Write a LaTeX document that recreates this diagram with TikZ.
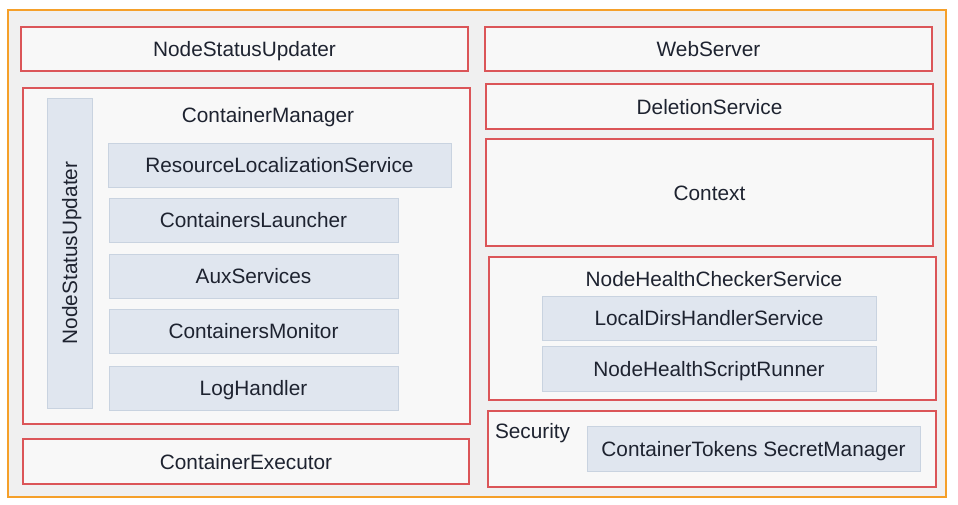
\documentclass[tikz,border=0pt]{standalone}
\usepackage{fontspec}
\setmainfont{Liberation Sans}
\definecolor{outerbg}{HTML}{F0F0F0}
\definecolor{outerln}{HTML}{F5A02A}
\definecolor{boxbg}{HTML}{F8F8F8}
\definecolor{redln}{HTML}{DB5558}
\definecolor{bluebg}{HTML}{E0E6EF}
\definecolor{blueln}{HTML}{C9D3E0}
\definecolor{txt}{HTML}{1E2330}
\tikzset{
  every node/.style={font=\fontsize{20.8}{24}\selectfont, text=txt, inner sep=0pt, outer sep=0pt, text height=19pt, text depth=4pt},
  redbox/.style={draw=redln, fill=boxbg, line width=1.1pt},
  bluebox/.style={draw=blueln, fill=bluebg, line width=0.9pt},
  lbl/.style={},
}
\begin{document}
\begin{tikzpicture}[x=1pt,y=-1pt]
\useasboundingbox (0,0) rectangle (958,504);
\fill[white] (0,0) rectangle (958,504);
\node[draw=outerln, fill=outerbg, line width=1.5pt, minimum width=938pt, minimum height=487pt] (outer) at (477,253.5) {};
% left column
\node[redbox, minimum width=447pt, minimum height=44pt] (nsu) at (244.5,49) {NodeStatusUpdater};
\node[redbox, minimum width=447pt, minimum height=336pt] (cm) at (246.5,256) {};
\node[lbl] (cmlbl) at (268,115) {ContainerManager};
\node[bluebox, minimum width=45pt, minimum height=310pt] (nsuv) at (69.5,253) {};
\node[rotate=90] (nsuvlbl) at (nsuv.center) {NodeStatusUpdater};
\node[bluebox, minimum width=343pt, minimum height=44pt] (rls) at (279.5,165) {ResourceLocalizationService};
\node[bluebox, minimum width=289pt, minimum height=44pt] (cl) at (253.5,220) {ContainersLauncher};
\node[bluebox, minimum width=289pt, minimum height=44pt] (aux) at (253.5,276) {AuxServices};
\node[bluebox, minimum width=289pt, minimum height=44pt] (cmon) at (253.5,331) {ContainersMonitor};
\node[bluebox, minimum width=289pt, minimum height=44pt] (lh) at (253.5,388) {LogHandler};
\node[redbox, minimum width=446pt, minimum height=45pt] (ce) at (246,461.5) {ContainerExecutor};
% right column
\node[redbox, minimum width=447pt, minimum height=44pt] (ws) at (708.5,49) {WebServer};
\node[redbox, minimum width=447pt, minimum height=45pt] (ds) at (709.5,106.5) {DeletionService};
\node[redbox, minimum width=447pt, minimum height=107pt] (ctx) at (709.5,192.5) {Context};
\node[redbox, minimum width=447pt, minimum height=143pt] (nhc) at (712.5,328.5) {};
\node[lbl] (nhclbl) at (714,279) {NodeHealthCheckerService};
\node[bluebox, minimum width=334pt, minimum height=44pt] (ldh) at (709,318) {LocalDirsHandlerService};
\node[bluebox, minimum width=334pt, minimum height=45pt] (nhs) at (709,368.5) {NodeHealthScriptRunner};
\node[redbox, minimum width=448pt, minimum height=76pt] (sec) at (712,449) {};
\node[lbl, anchor=west] (seclbl) at (495,431) {Security};
\node[bluebox, minimum width=333pt, minimum height=45pt] (cts) at (753.5,448.5) {ContainerTokens SecretManager};
\end{tikzpicture}
\end{document}
